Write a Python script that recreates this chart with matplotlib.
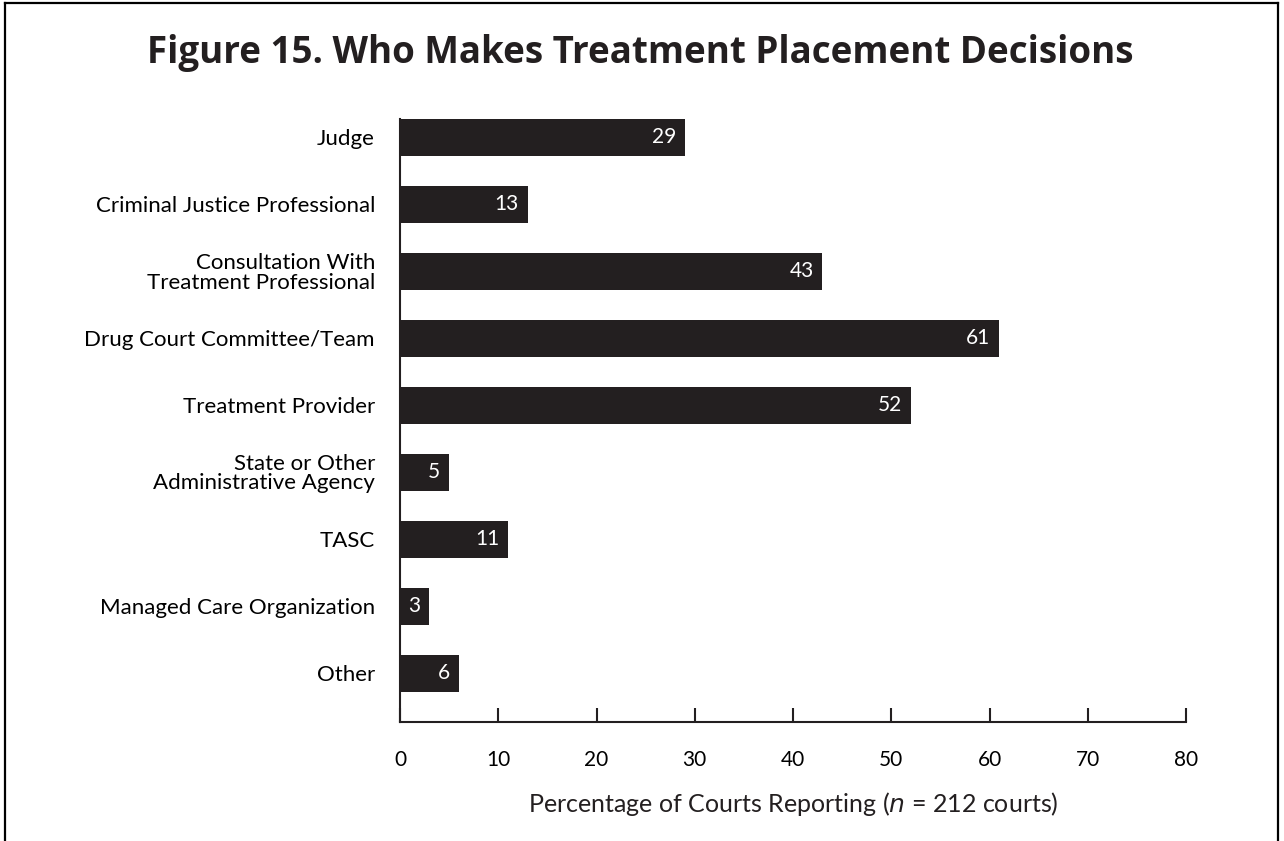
import matplotlib
matplotlib.use("Agg")
import matplotlib.pyplot as plt
from matplotlib.lines import Line2D

plt.rcParams['font.family'] = ['Lato', 'DejaVu Sans']

categories = ["Judge", "Criminal Justice Professional", "Consultation With\nTreatment Professional",
              "Drug Court Committee/Team", "Treatment Provider",
              "State or Other\nAdministrative Agency", "TASC", "Managed Care Organization", "Other"]
values = [29, 13, 43, 61, 52, 5, 11, 3, 6]
xticks = [0, 10, 20, 30, 40, 50, 60, 70, 80]

bar_color = "#231f20"

fig = plt.figure(figsize=(12.84, 8.41), dpi=100)
ax = fig.add_axes([400/1284, 1-722/841, (1186-400)/1284, (722-119)/841])

ypos = list(range(len(categories)))
ax.barh(ypos, values, height=0.55, color=bar_color)
for y, v in zip(ypos, values):
    ax.text(v - 0.9, y, str(v), color="white", ha="right", va="center", fontsize=15)

ax.set_ylim(len(categories) - 1 + 0.73, -0.275)
ax.set_xlim(0, 80)
ax.set_xticks(xticks)
ax.set_xticklabels([str(t) for t in xticks])
ax.set_yticks(ypos)
ax.set_yticklabels(categories, fontsize=16, linespacing=0.95)
ax.tick_params(axis='y', length=0, pad=18)
ax.tick_params(axis='x', direction='in', length=10, width=1.5, pad=20, labelsize=15, color=bar_color)
for s in ['top', 'right']:
    ax.spines[s].set_visible(False)
for s in ['left', 'bottom']:
    ax.spines[s].set_linewidth(1.5)
    ax.spines[s].set_color(bar_color)

fig.text(793/1284, 1-804/841, r"Percentage of Courts Reporting ($\mathit{n}$ = 212 courts)",
         ha="center", va="center", fontsize=18, color=bar_color)
fig.text(640/1284, 1-53/841, "Figure 15. Who Makes Treatment Placement Decisions",
         ha="center", va="center", fontsize=26.5, fontweight="bold", color=bar_color,
         family=["Open Sans", "DejaVu Sans"])

# frame (no bottom edge)
lw = 1.6
x0, x1 = 5/1284, 1278/1284
y0, y1 = 0.0, 1-3/841
fig.add_artist(Line2D([x0, x0], [y0, y1], transform=fig.transFigure, color="black", lw=lw))
fig.add_artist(Line2D([x1, x1], [y0, y1], transform=fig.transFigure, color="black", lw=lw))
fig.add_artist(Line2D([x0, x1], [y1, y1], transform=fig.transFigure, color="black", lw=lw))

fig.savefig("out.png", dpi=100)
